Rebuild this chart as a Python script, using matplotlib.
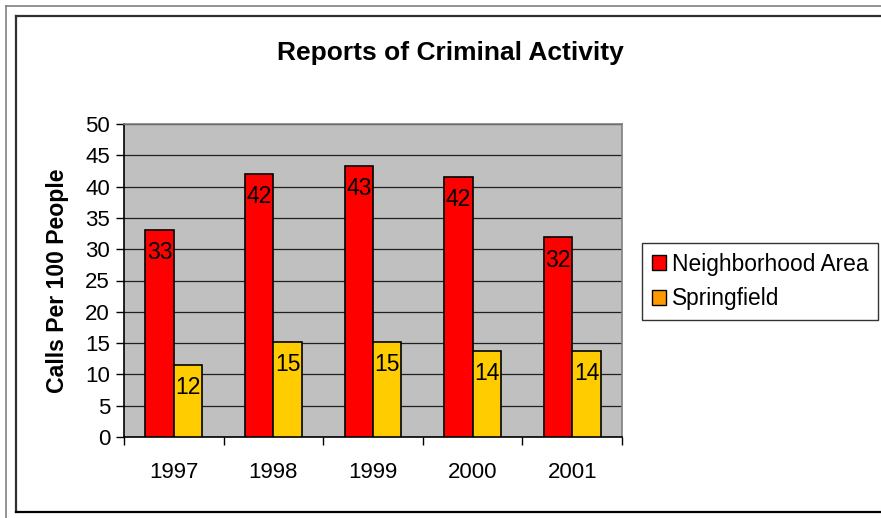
import matplotlib
matplotlib.use("Agg")
import matplotlib.pyplot as plt
import numpy as np
from matplotlib.lines import Line2D
from matplotlib.patches import Rectangle

plt.rcParams['font.family'] = ['Liberation Sans', 'DejaVu Sans']

# Calls per 100 people by year
years = ['1997', '1998', '1999', '2000', '2001']
neighborhood = [33.1, 42.0, 43.3, 41.6, 31.9]
springfield = [11.5, 15.2, 15.2, 13.8, 13.8]
series_names = ['Neighborhood Area', 'Springfield']

W, H = 881, 518
fig = plt.figure(figsize=(W / 100, H / 100), dpi=100)
fig.patch.set_facecolor('white')

# plot area in pixel coordinates
left, right, top, bottom = 124, 622, 124, 437
ax = fig.add_axes([left / W, 1 - bottom / H, (right - left) / W, (bottom - top) / H])
ax.set_facecolor('#c0c0c0')

x = np.arange(len(years))
width = 0.286
bars_n = ax.bar(x - width / 2, neighborhood, width, color='#ff0000',
                edgecolor='black', linewidth=1.2, zorder=3)
bars_s = ax.bar(x + width / 2, springfield, width, color='#ffcc00',
                edgecolor='black', linewidth=1.2, zorder=3)

# value labels sit just inside the top of each bar
for bars, vals in ((bars_n, neighborhood), (bars_s, springfield)):
    for b, v in zip(bars, vals):
        ax.annotate('%.0f' % v, (b.get_x() + b.get_width() / 2, v),
                    xytext=(0, -16.5), textcoords='offset points',
                    ha='center', va='center', fontsize=16.5, color='black', zorder=4)

ax.set_xlim(-0.5, len(years) - 0.5)
ax.set_ylim(0, 50)
ax.set_yticks(np.arange(0, 51, 5))
ax.yaxis.grid(True, color='#202020', linewidth=0.9, zorder=1)
ax.set_axisbelow(True)

ax.set_xticks(np.arange(-0.5, len(years), 1.0))
ax.set_xticklabels([])
ax.set_xticks(x, minor=True)
ax.set_xticklabels(years, minor=True, fontsize=16)
ax.tick_params(axis='x', which='minor', length=0, pad=18)
ax.tick_params(axis='x', which='major', length=6, width=1, color='black', direction='out')
ax.tick_params(axis='y', length=6, width=1, labelsize=16, pad=4, direction='out')

for s in ('top', 'right'):
    ax.spines[s].set_color('#808080')
    ax.spines[s].set_linewidth(1.2)
for s in ('left', 'bottom'):
    ax.spines[s].set_color('black')
    ax.spines[s].set_linewidth(1.2)

ax.set_ylabel('Calls Per 100 People', fontsize=16.6, fontweight='bold', labelpad=12)
fig.text(450 / W, 1 - 53 / H, 'Reports of Criminal Activity', ha='center', va='center',
         fontsize=19, fontweight='bold')

# legend with square swatches
handles = [Rectangle((0, 0), 1, 1, facecolor='#ff0000', edgecolor='black', linewidth=1),
           Rectangle((0, 0), 1, 1, facecolor='#ff9900', edgecolor='black', linewidth=1)]
leg = fig.legend(handles, series_names, loc='upper left',
                 bbox_to_anchor=(642 / W, 1 - 243 / H), fontsize=16.4,
                 frameon=True, fancybox=False, edgecolor='black',
                 handlelength=0.65, handleheight=0.65, handletextpad=0.25,
                 borderpad=0.42, labelspacing=0.52, borderaxespad=0)
leg.get_frame().set_linewidth(1.0)

# chart border lines
def px_line(xs, ys, color, lw):
    fig.add_artist(Line2D([v / W for v in xs], [1 - v / H for v in ys],
                          color=color, linewidth=lw, transform=fig.transFigure))

px_line([6, 6], [6, H], '#808080', 1.2)
px_line([6, W], [6, 6], '#808080', 1.2)
px_line([15.5, 15.5], [15.5, 512], '#303030', 1.6)
px_line([15.5, W], [15.5, 15.5], '#303030', 1.6)
px_line([15.5, W], [512, 512], '#000000', 1.6)

fig.savefig('out.png', dpi=100)
